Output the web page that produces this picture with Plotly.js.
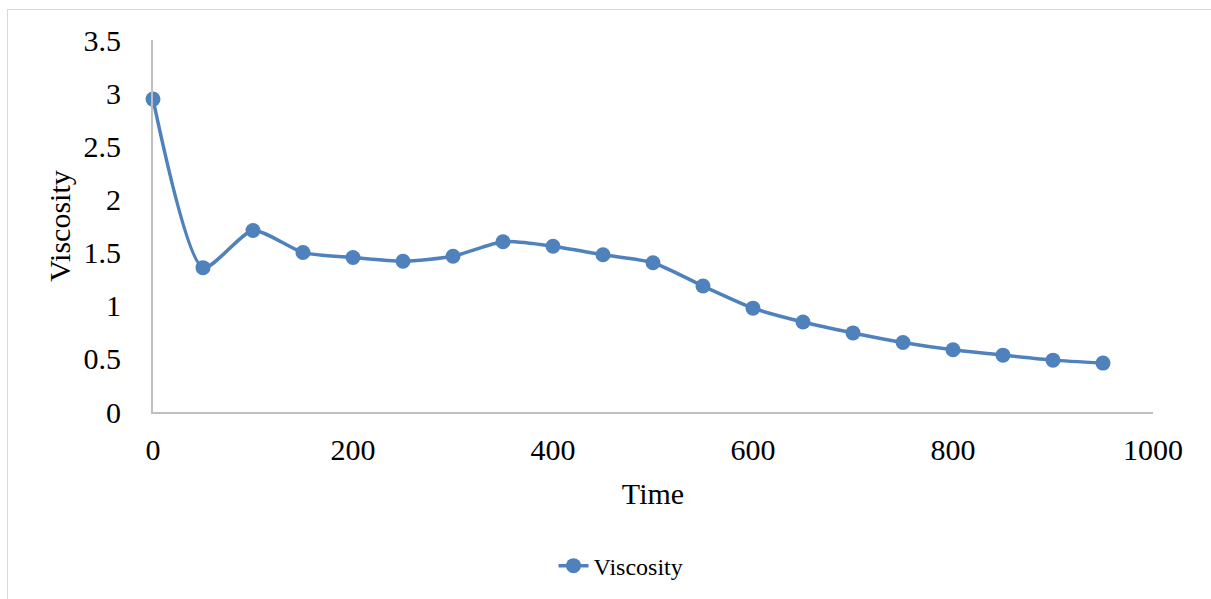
<!DOCTYPE html>
<html>
<head>
<meta charset="utf-8">
<script src="https://cdn.plot.ly/plotly-3.0.1.min.js"></script>
<style>
html,body{margin:0;padding:0;background:#fff;}
#wrap{position:relative;width:1211px;height:599px;overflow:hidden;}
#frame{position:absolute;left:7px;top:9px;width:1300px;height:700px;border-left:1px solid #d9d9d9;border-top:1px solid #d9d9d9;pointer-events:none;}
#chart{position:absolute;left:0;top:0;width:1211px;height:599px;}
</style>
</head>
<body>
<div id="wrap"><div id="chart"></div><div id="frame"></div></div>
<script>
const time = [0, 50, 100, 150, 200, 250, 300, 350, 400, 450, 500, 550, 600, 650, 700, 750, 800, 850, 900, 950];
const viscosity = [2.944, 1.358, 1.708, 1.50, 1.454, 1.419, 1.466, 1.602, 1.56, 1.479, 1.404, 1.185, 0.977, 0.847, 0.744, 0.654, 0.585, 0.535, 0.488, 0.46];
const seriesName = 'Viscosity';
const xTickVals = [0, 200, 400, 600, 800, 1000];
const yTickVals = [0, 0.5, 1, 1.5, 2, 2.5, 3, 3.5];
const yTickText = ['0', '0.5', '1', '1.5', '2', '2.5', '3', '3.5'];

const color = '#4f81bd';
const font = 'Liberation Serif, Times New Roman, serif';

Plotly.newPlot('chart', [{
  x: time, y: viscosity, name: seriesName, type: 'scatter', mode: 'lines+markers',
  line: {color: color, width: 3.5, shape: 'spline', smoothing: 0.65},
  marker: {color: color, size: 15}, cliponaxis: false
}], {
  width: 1211, height: 599,
  margin: {l: 153, r: 58, t: 40, b: 186},
  paper_bgcolor: '#fff', plot_bgcolor: '#fff',
  font: {family: font, color: '#000'},
  showlegend: true,
  legend: {orientation: 'h', x: 0.468, xanchor: 'center', xref: 'paper', y: -0.35, yanchor: 'top', font: {size: 24, family: font}},
  xaxis: {
    range: [0, 1000], tickvals: xTickVals, showgrid: false, zeroline: false,
    showline: true, linecolor: '#bfbfbf', linewidth: 2, ticks: '',
    tickfont: {size: 30, family: font}, ticklabelstandoff: 10,
    title: {text: 'Time', font: {size: 30, family: font}, standoff: 18}
  },
  yaxis: {
    range: [0, 3.5], tickvals: yTickVals, ticktext: yTickText, showgrid: false, zeroline: false,
    showline: true, linecolor: '#bfbfbf', linewidth: 2, ticks: '',
    tickfont: {size: 30, family: font}, ticklabelstandoff: 24,
    title: {text: 'Viscosity', font: {size: 30, family: font}, standoff: 4}
  }
}, {displayModeBar: false, staticPlot: true});
</script>
</body>
</html>
